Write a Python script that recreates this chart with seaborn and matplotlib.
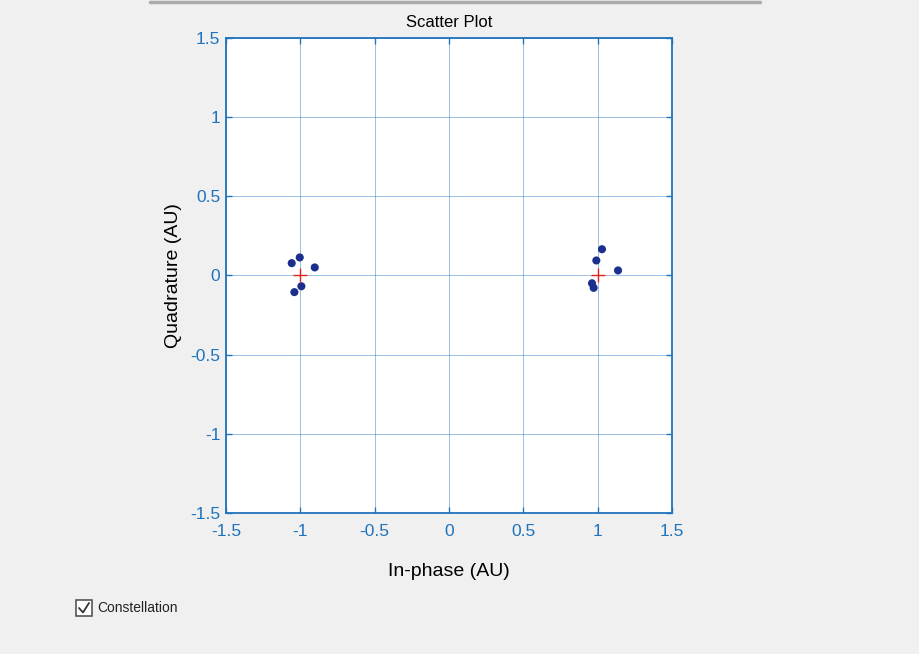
import numpy as np
import pandas as pd
import matplotlib.pyplot as plt
import seaborn as sns
from matplotlib.patches import Rectangle
from matplotlib.lines import Line2D

# Received symbols
in_phase = [-1.058, -1.004, -0.903, -0.993, -1.040, 1.029, 0.991, 1.137, 0.962, 0.973]
quadrature = [0.078, 0.114, 0.051, -0.068, -0.105, 0.166, 0.095, 0.032, -0.049, -0.078]

# Reference constellation (BPSK)
ref_i = [-1, 1]
ref_q = [0, 0]

ticks = [-1.5, -1, -0.5, 0, 0.5, 1, 1.5]
tick_labels = ["-1.5", "-1", "-0.5", "0", "0.5", "1", "1.5"]

axis_blue = "#1f73bd"
dot_blue = "#1c2f8c"

sns.set_style("white")
plt.rcParams["font.family"] = ["Liberation Sans", "DejaVu Sans"]

data = pd.DataFrame({"I": in_phase, "Q": quadrature})
ref = pd.DataFrame({"I": ref_i, "Q": ref_q})

fig = plt.figure(figsize=(9.19, 6.54), dpi=100, facecolor="#f0f0f0")
ax = fig.add_axes([226 / 919, 1 - 513 / 654, (672 - 226) / 919, (513 - 38) / 654])
ax.set_facecolor("white")

sns.scatterplot(data=data, x="I", y="Q", color=dot_blue, s=34, edgecolor="none", ax=ax, zorder=3)
ax.plot(ref["I"], ref["Q"], linestyle="none", marker="+", markersize=10, markeredgewidth=1.0,
        color="#e0201c", zorder=4)

ax.set_xlim(-1.5, 1.5)
ax.set_ylim(-1.5, 1.5)
ax.set_xticks(ticks)
ax.set_xticklabels(tick_labels)
ax.set_yticks(ticks)
ax.set_yticklabels(tick_labels)
ax.grid(True, color=axis_blue, alpha=0.45, linewidth=0.7)
ax.set_axisbelow(True)

for sp in ax.spines.values():
    sp.set_color(axis_blue)
    sp.set_linewidth(1.3)
ax.tick_params(direction="in", length=4, width=1, colors=axis_blue, labelsize=12.5,
               top=True, right=True, bottom=True, left=True)
ax.tick_params(axis="x", pad=8)
ax.tick_params(axis="y", pad=4)

ax.set_xlabel("In-phase (AU)", fontsize=14, color="black", labelpad=17)
ax.set_ylabel("Quadrature (AU)", fontsize=14, color="black", labelpad=6)
ax.set_title("Scatter Plot", fontsize=12, color="black", pad=8)

# top shadow bar
fig.add_artist(Line2D([150 / 919, 760 / 919], [1 - 1.5 / 654, 1 - 1.5 / 654],
                      color="#9a9a9a", linewidth=2.5, transform=fig.transFigure, alpha=0.8))

# checkbox
fig.add_artist(Rectangle((76 / 919, 1 - 616 / 654), 16 / 919, 16 / 654, transform=fig.transFigure,
                         facecolor="white", edgecolor="#555555", linewidth=1.2))
fig.add_artist(Line2D([79 / 919, 83 / 919, 89 / 919], [1 - 608 / 654, 1 - 612.5 / 654, 1 - 603 / 654],
                      color="#333333", linewidth=1.3, transform=fig.transFigure))
fig.text(97 / 919, 1 - 608 / 654, "Constellation", fontsize=10, va="center", ha="left", color="#222222")

fig.savefig("out.png", dpi=100, facecolor=fig.get_facecolor())
